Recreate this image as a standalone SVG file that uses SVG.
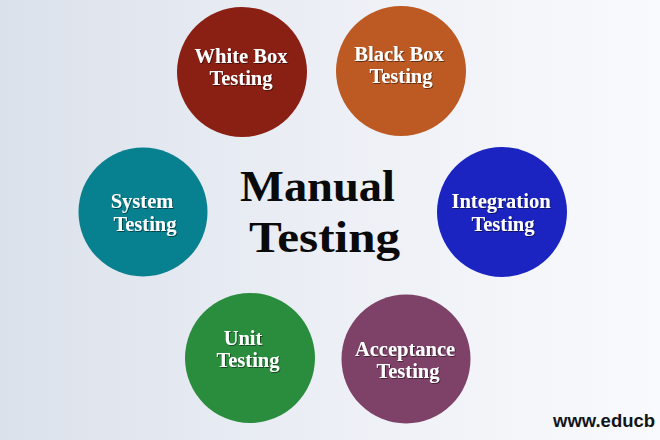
<svg xmlns="http://www.w3.org/2000/svg" width="660" height="440" viewBox="0 0 660 440">
  <defs>
    <linearGradient id="bg" x1="0" y1="0" x2="1" y2="0">
      <stop offset="0" stop-color="#dbe1eb"/>
      <stop offset="0.5" stop-color="#eceff5"/>
      <stop offset="1" stop-color="#f9fafd"/>
    </linearGradient>
    <filter id="shadow" x="-10%" y="-20%" width="120%" height="140%">
      <feDropShadow dx="0.8" dy="0.8" stdDeviation="0.5" flood-color="#000" flood-opacity="0.6"/>
    </filter>
  </defs>
  <style>
    .lbl { font-family: "Liberation Serif", "DejaVu Serif", serif; font-weight: bold; font-size: 20.5px; fill: #ffffff; text-anchor: middle; filter: url(#shadow); }
    .title { font-family: "Liberation Serif", "DejaVu Serif", serif; font-weight: bold; font-size: 44px; fill: #0a0a0a; }
    .url { font-family: "Liberation Sans", Arial, sans-serif; font-weight: bold; font-size: 18.5px; fill: #111418; }
  </style>
  <rect x="0" y="0" width="660" height="440" fill="url(#bg)"/>

  <g id="connectors"></g>

  <g id="center">
    <text class="title" x="240" y="201" textLength="155" lengthAdjust="spacingAndGlyphs">Manual</text>
    <text class="title" x="249" y="252" textLength="151" lengthAdjust="spacingAndGlyphs">Testing</text>
  </g>

  <g id="white-box">
    <circle cx="242" cy="72" r="65" fill="#8a1f14"/>
    <text class="lbl" x="241" y="63">White Box</text>
    <text class="lbl" x="241" y="85">Testing</text>
  </g>

  <g id="black-box">
    <circle cx="401" cy="71" r="65" fill="#bd5a23"/>
    <text class="lbl" x="399" y="61">Black Box</text>
    <text class="lbl" x="401" y="83">Testing</text>
  </g>

  <g id="system">
    <circle cx="143" cy="212" r="64.5" fill="#07808f"/>
    <text class="lbl" x="142" y="208">System</text>
    <text class="lbl" x="145" y="231">Testing</text>
  </g>

  <g id="integration">
    <circle cx="502" cy="212" r="65" fill="#1b24c1"/>
    <text class="lbl" x="501" y="208">Integration</text>
    <text class="lbl" x="503" y="231">Testing</text>
  </g>

  <g id="unit">
    <circle cx="250" cy="358" r="65" fill="#2a8c3d"/>
    <text class="lbl" x="243" y="345">Unit</text>
    <text class="lbl" x="248" y="367">Testing</text>
  </g>

  <g id="acceptance">
    <circle cx="406" cy="359" r="64.5" fill="#7e4168"/>
    <text class="lbl" x="405" y="356">Acceptance</text>
    <text class="lbl" x="408" y="378">Testing</text>
  </g>

  <text class="url" x="553" y="427">www.educb</text>
</svg>
